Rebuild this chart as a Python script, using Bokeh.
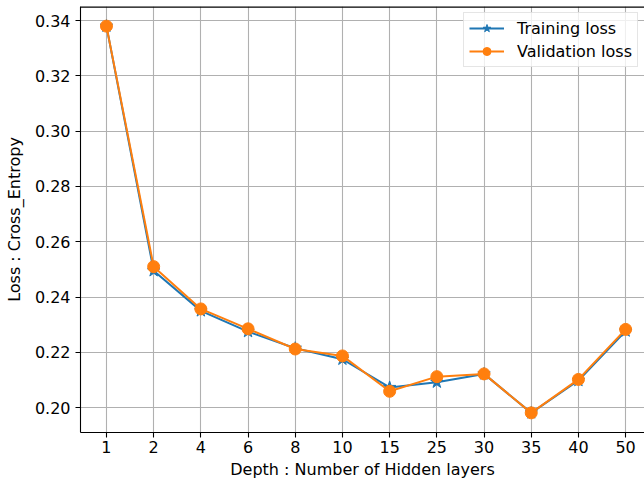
from bokeh.plotting import figure
from bokeh.models import FixedTicker, NumeralTickFormatter, Range1d, Legend, LegendItem, Span
from bokeh.embed import file_html
from bokeh.resources import INLINE

depths = ["1", "2", "4", "6", "8", "10", "15", "25", "30", "35", "40", "50"]
train_loss = [0.338, 0.2495, 0.2350, 0.2275, 0.2215, 0.2175, 0.2073, 0.2092, 0.2122, 0.1981, 0.2098, 0.2277]
val_loss = [0.338, 0.2510, 0.2357, 0.2285, 0.2212, 0.2187, 0.2059, 0.2112, 0.2122, 0.1981, 0.2102, 0.2283]
y_ticks = [0.20, 0.22, 0.24, 0.26, 0.28, 0.30, 0.32, 0.34]

xs = list(range(len(depths)))

FONT = "DejaVu Sans"
BLUE = "#1f77b4"
ORANGE = "#ff7f0e"
Y_TOP = 0.3451

p = figure(width=644, height=484,
           x_range=Range1d(-0.55, 11.40), y_range=Range1d(0.1910, Y_TOP),
           output_backend="svg", toolbar_location=None,
           min_border_left=80, min_border_right=0, min_border_top=6, min_border_bottom=52)

p.outline_line_color = None

for ax in (p.xaxis[0], p.yaxis[0]):
    ax.axis_line_color = "black"
    ax.axis_line_width = 1.1
    ax.major_tick_in = 0
    ax.major_tick_out = 5
    ax.major_tick_line_color = "black"
    ax.major_tick_line_width = 1.1
    ax.minor_tick_line_color = None
    ax.major_label_text_font = FONT
    ax.major_label_text_font_size = "16px"
    ax.major_label_text_color = "black"
    ax.axis_label_text_font = FONT
    ax.axis_label_text_font_size = "16px"
    ax.axis_label_text_font_style = "normal"
    ax.axis_label_text_color = "black"

p.xaxis.major_label_standoff = 3
p.xaxis.axis_label_standoff = 4
p.yaxis.major_label_standoff = 5
p.yaxis.axis_label_standoff = 8

p.xaxis.ticker = FixedTicker(ticks=xs)
p.xaxis.major_label_overrides = {i: d for i, d in enumerate(depths)}
p.xaxis.axis_label = "Depth : Number of Hidden layers"
p.yaxis.ticker = FixedTicker(ticks=y_ticks)
p.yaxis.formatter = NumeralTickFormatter(format="0.00")
p.yaxis.axis_label = "Loss : Cross_Entropy"

p.grid.grid_line_color = "#b0b0b0"
p.grid.grid_line_width = 1.1

p.add_layout(Span(location=Y_TOP, dimension="width", line_color="black",
                  line_width=2.6, level="overlay"))

l1 = p.line(xs, train_loss, line_color=BLUE, line_width=2)
s1 = p.scatter(xs, train_loss, marker="star", size=13, fill_color=BLUE, line_color=BLUE)
l2 = p.line(xs, val_loss, line_color=ORANGE, line_width=2)
s2 = p.scatter(xs, val_loss, marker="circle", size=12, fill_color=ORANGE, line_color=ORANGE)

legend = Legend(items=[LegendItem(label="Training loss", renderers=[l1, s1]),
                       LegendItem(label="Validation loss", renderers=[l2, s2])],
                location="top_right")
legend.label_text_font = FONT
legend.label_text_font_size = "16px"
legend.label_text_color = "black"
legend.border_line_color = "#cccccc"
legend.border_line_width = 1
legend.background_fill_alpha = 0.8
legend.glyph_width = 35
legend.glyph_height = 20
legend.label_height = 20
legend.label_standoff = 13
legend.padding = 5
legend.spacing = 3
legend.margin = 6
p.add_layout(legend)

open("out.html", "w").write(file_html(p, INLINE))
